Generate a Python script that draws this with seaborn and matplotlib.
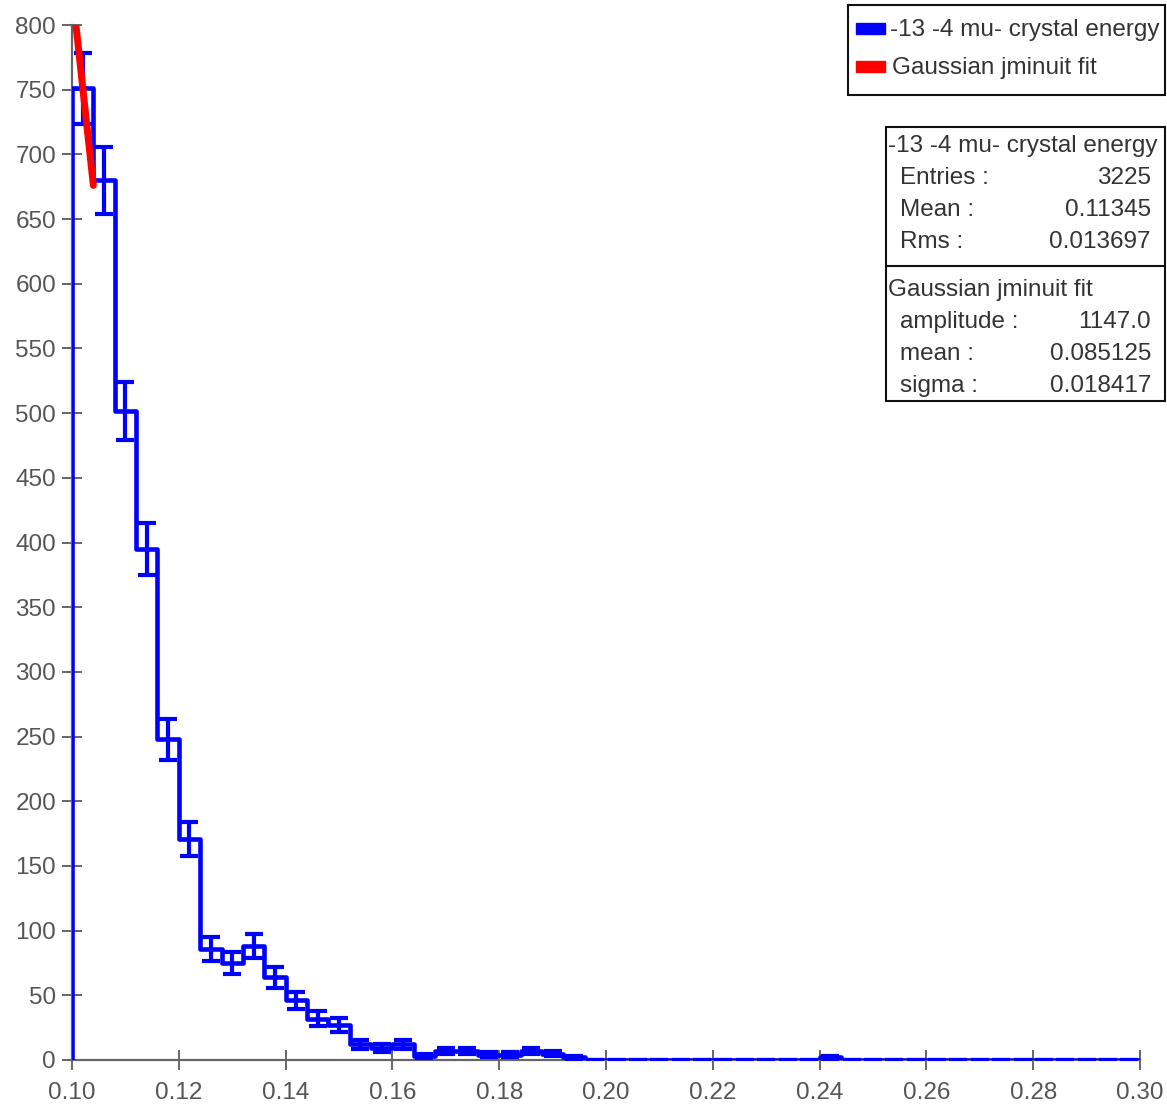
import numpy as np
import pandas as pd
import matplotlib
matplotlib.use("Agg")
import matplotlib.pyplot as plt
from matplotlib.patches import Rectangle
import seaborn as sns

# ---------------- data ----------------
bin_edges = [round(0.100 + 0.004 * i, 3) for i in range(51)]
counts = [751, 680, 502, 395, 248, 171, 86, 75, 88, 64,
          46, 32, 27, 12, 9, 12, 3, 7, 7, 4,
          4, 7, 5, 2, 0, 0, 0, 0, 0, 0,
          0, 0, 0, 0, 0, 2, 0, 0, 0, 0,
          0, 0, 0, 0, 0, 0, 0, 0, 0, 0]
fit_x = [0.100, 0.104]
fit_y = [828, 676]

hist_label = "-13 -4 mu- crystal energy"
fit_label = "Gaussian jminuit fit"
stats_rows = [("Entries :", "3225"), ("Mean :", "0.11345"), ("Rms :", "0.013697")]
fit_rows = [("amplitude :", "1147.0"), ("mean :", "0.085125"), ("sigma :", "0.018417")]
x_ticks = [0.10, 0.12, 0.14, 0.16, 0.18, 0.20, 0.22, 0.24, 0.26, 0.28, 0.30]
y_ticks = list(range(0, 801, 50))

# ---------------- style ----------------
sns.set_theme(style="white")
plt.rcParams['font.family'] = ['Liberation Sans', 'DejaVu Sans']

W, H = 1167, 1105
fig = plt.figure(figsize=(W / 100, H / 100), dpi=100)
ax = fig.add_axes([72 / W, 1 - 1060 / H, (1140 - 72) / W, (1060 - 25) / H])

BLUE = "#0000ff"
RED = "#ff0000"
GRAY = "#666666"
FS = 17.5

edges = np.array(bin_edges)
centers = (edges[:-1] + edges[1:]) / 2
cnt = np.array(counts, dtype=float)
df = pd.DataFrame({"x": centers, "n": cnt})

sns.histplot(data=df, x="x", weights="n", bins=bin_edges, element="step",
             fill=False, color=BLUE, linewidth=3.3, ax=ax, zorder=3)
# closing vertical edge of first bin
ax.vlines(edges[0], 0, cnt[0], color=BLUE, linewidth=3.3, zorder=3)
ax.errorbar(centers, cnt, yerr=np.sqrt(cnt), fmt="none", ecolor=BLUE,
            elinewidth=3.0, capsize=6.5, capthick=3.0, zorder=3)

sns.lineplot(x=fit_x, y=fit_y, color=RED, linewidth=5, ax=ax, zorder=4,
             sort=False)

ax.set_xlim(0.10, 0.30)
ax.set_ylim(0, 800)
ax.set_xticks(x_ticks)
ax.set_xticklabels([f"{t:.2f}" for t in x_ticks])
ax.set_yticks(y_ticks)
ax.set_xlabel("")
ax.set_ylabel("")
for s in ["top", "right"]:
    ax.spines[s].set_visible(False)
for s in ["left", "bottom"]:
    ax.spines[s].set_color(GRAY)
    ax.spines[s].set_linewidth(1.6)
    ax.spines[s].set_zorder(2)
ax.tick_params(axis="both", direction="inout", length=15, width=1.4,
               color=GRAY, labelcolor="#555555", labelsize=FS, pad=4,
               left=True, bottom=True)
ax.tick_params(axis="x", pad=8)

# ---------------- legend box ----------------
def fx(px):
    return px / W

def fy(py):
    return 1 - py / H

TXT = "#333333"
fig.patches.append(Rectangle((fx(848), fy(95)), fx(1165) - fx(848), fy(5) - fy(95),
                             transform=fig.transFigure, fill=False,
                             edgecolor="#111111", linewidth=1.5))
fig.patches.append(Rectangle((fx(856), fy(34)), fx(885) - fx(856), fy(23) - fy(34),
                             transform=fig.transFigure, color=BLUE))
fig.patches.append(Rectangle((fx(856), fy(72)), fx(885) - fx(856), fy(61) - fy(72),
                             transform=fig.transFigure, color=RED))
fig.text(fx(890), fy(30), hist_label, fontsize=FS, color=TXT, va="center", ha="left")
fig.text(fx(892), fy(68), fit_label, fontsize=FS, color=TXT, va="center", ha="left")

# ---------------- stats box ----------------
fig.patches.append(Rectangle((fx(886), fy(401)), fx(1165) - fx(886), fy(127) - fy(401),
                             transform=fig.transFigure, fill=False,
                             edgecolor="#111111", linewidth=1.5))
fig.lines.append(plt.Line2D([fx(886), fx(1165)], [fy(266), fy(266)],
                            transform=fig.transFigure, color="#111111", linewidth=1.5))
fig.text(fx(888), fy(146), hist_label, fontsize=FS, color=TXT, va="center", ha="left")
for i, (k, v) in enumerate(stats_rows):
    yy = 178 + 32 * i
    fig.text(fx(900), fy(yy), k, fontsize=FS, color=TXT, va="center", ha="left")
    fig.text(fx(1151), fy(yy), v, fontsize=FS, color=TXT, va="center", ha="right")
fig.text(fx(888), fy(290), fit_label, fontsize=FS, color=TXT, va="center", ha="left")
for i, (k, v) in enumerate(fit_rows):
    yy = 322 + 32 * i
    fig.text(fx(900), fy(yy), k, fontsize=FS, color=TXT, va="center", ha="left")
    fig.text(fx(1151), fy(yy), v, fontsize=FS, color=TXT, va="center", ha="right")

fig.savefig("out.png", dpi=100, facecolor="white")
